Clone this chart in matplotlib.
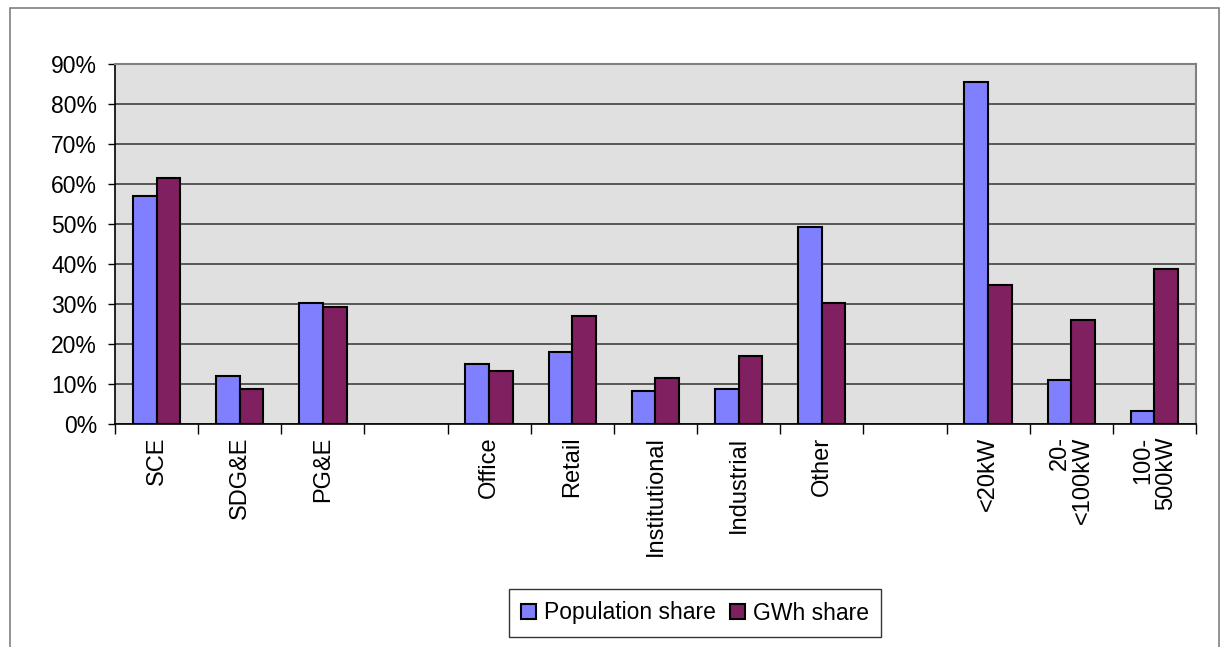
import matplotlib.pyplot as plt
from matplotlib.patches import Rectangle
import numpy as np

# categories (blank slots separate the groups)
categories = ["SCE", "SDG&E", "PG&E", "",
              "Office", "Retail", "Institutional", "Industrial", "Other", "",
              "<20kW", "20-\n<100kW", "100-\n500kW"]
population_share = [57.1, 12.1, 30.3, np.nan,
                    14.9, 18.1, 8.25, 8.75, 49.25, np.nan,
                    85.4, 11.0, 3.25]
gwh_share = [61.6, 8.75, 29.3, np.nan,
             13.25, 27.1, 11.4, 17.1, 30.3, np.nan,
             34.75, 26.0, 38.7]
y_ticks = [0, 10, 20, 30, 40, 50, 60, 70, 80, 90]

plt.rcParams['font.family'] = ['Liberation Sans', 'DejaVu Sans']

fig = plt.figure(figsize=(12.21, 6.47), dpi=100)
ax = fig.add_axes([0.0942, 0.3447, 0.8853, 0.5564])

# outer chart border
fig.patches.append(Rectangle((0.008, -0.01), 0.99, 0.998, transform=fig.transFigure,
                             fill=False, edgecolor='#808080', lw=1.2))

x = np.arange(len(categories))
w = 0.285
ax.bar(x - w / 2, population_share, w, color='#8080FF', edgecolor='black', lw=1.5,
       label='Population share', zorder=3)
ax.bar(x + w / 2, gwh_share, w, color='#802060', edgecolor='black', lw=1.5,
       label='GWh share', zorder=3)

ax.set_facecolor('#E0E0E0')
ax.set_xlim(-0.5, len(categories) - 0.5)
ax.set_ylim(0, 90)
ax.set_yticks(y_ticks)
ax.set_yticklabels([f"{v}%" for v in y_ticks], fontsize=16.5)
ax.yaxis.grid(True, color='#404040', lw=1.2, zorder=1)
ax.tick_params(axis='y', length=5, width=1, direction='out', pad=8)

ax.set_xticks(x)
ax.set_xticklabels(categories, rotation=90, fontsize=17, va='top', ha='center',
                   multialignment='right', linespacing=1.05)
ax.tick_params(axis='x', which='major', length=0, pad=9)
ax.set_xticks(np.arange(-0.5, len(categories) + 0.5, 1), minor=True)
ax.tick_params(axis='x', which='minor', length=7, width=1, direction='out')

for s in ['top', 'right']:
    ax.spines[s].set_color('#808080')
    ax.spines[s].set_linewidth(1.5)
for s in ['left', 'bottom']:
    ax.spines[s].set_color('black')
    ax.spines[s].set_linewidth(1.2)

leg = fig.legend(loc='center', bbox_to_anchor=(695 / 1221, 1 - 613 / 647), ncol=2,
                 fontsize=16.5, frameon=True, fancybox=False, edgecolor='black',
                 handlelength=0.65, handleheight=0.65, handletextpad=0.35,
                 columnspacing=0.6, borderpad=0.55, borderaxespad=0)
leg.get_frame().set_linewidth(1)
for h in leg.legend_handles:
    h.set_linewidth(1.5)

fig.savefig('out.png', dpi=100)
